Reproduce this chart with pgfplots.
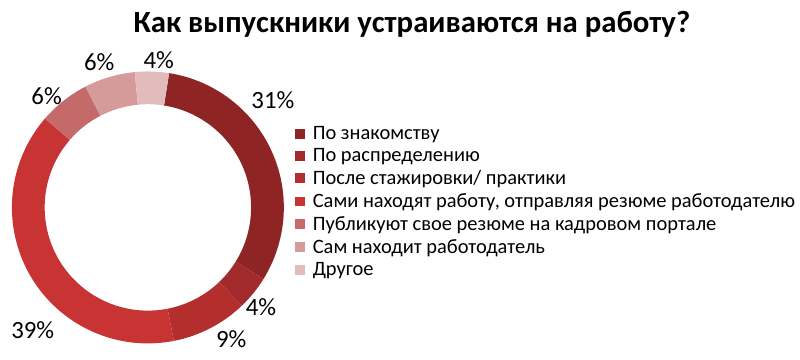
\documentclass[border=0pt]{standalone}
\usepackage{fontspec}
\setmainfont{Carlito}
\usepackage{pgfplots}
\usepackage{pgfplotstable}
\pgfplotsset{compat=1.18}
\definecolor{c0}{HTML}{8E2424}
\definecolor{c1}{HTML}{A12A2A}
\definecolor{c2}{HTML}{B52E2E}
\definecolor{c3}{HTML}{C83434}
\definecolor{c4}{HTML}{C46A6A}
\definecolor{c5}{HTML}{D69A9A}
\definecolor{c6}{HTML}{E2BCBC}
\pgfplotstableread{
value lx ly
31 275 261
4 263 53
9 233 20
39 33 29
6 47 265
6 100 299
4 160 301
}\ringdata
\def\total{0}%
\pgfplotsforeachungrouped \i in {0,...,6}{%
  \pgfplotstablegetelem{\i}{value}\of\ringdata
  \pgfmathsetmacro{\total}{\total+\pgfplotsretval}%
}%
\def\cum{0}%
\pgfplotsforeachungrouped \i in {0,...,6}{%
  \pgfplotstablegetelem{\i}{value}\of\ringdata
  \let\v\pgfplotsretval
  \pgfmathsetmacro{\a}{81-(\cum/\total)*360}%
  \pgfmathsetmacro{\cum}{\cum+\v}%
  \pgfmathsetmacro{\b}{81-(\cum/\total)*360}%
  \expandafter\xdef\csname sa\i\endcsname{\a}%
  \expandafter\xdef\csname ea\i\endcsname{\b}%
  \expandafter\xdef\csname val\i\endcsname{\v}%
  \pgfplotstablegetelem{\i}{lx}\of\ringdata
  \expandafter\xdef\csname lx\i\endcsname{\pgfplotsretval}%
  \pgfplotstablegetelem{\i}{ly}\of\ringdata
  \expandafter\xdef\csname ly\i\endcsname{\pgfplotsretval}%
}%
\begin{document}
\begin{tikzpicture}
\begin{axis}[
  hide axis, x=1pt, y=1pt, xmin=0, xmax=800, ymin=0, ymax=362,
  clip=false,
  legend style={at={(axis cs:294,239)}, anchor=north west, draw=none, fill=none,
    font=\fontsize{20.6}{23}\selectfont, row sep=3.6pt,
    nodes={inner sep=2pt},
    /tikz/every odd column/.append style={column sep=6pt}},
  legend cell align=left,
  legend image code/.code={\fill[#1] (0pt,-5pt) rectangle (10pt,5pt);},
]
\path (axis cs:0,0) rectangle (axis cs:800,362);
\pgfplotsinvokeforeach{0,...,6}{
  \fill[c#1] ([shift={(axis cs:149,153)}]{\csname sa#1\endcsname}:137pt)
     arc[start angle=\csname sa#1\endcsname, end angle=\csname ea#1\endcsname, radius=137pt]
     -- ([shift={(axis cs:149,153)}]{\csname ea#1\endcsname}:104pt)
     arc[start angle=\csname ea#1\endcsname, end angle=\csname sa#1\endcsname, radius=104pt]
     -- cycle;
  \node[font=\fontsize{25}{30}\selectfont] at (axis cs:\csname lx#1\endcsname,\csname ly#1\endcsname) {\csname val#1\endcsname\%};
}
\node[font=\fontsize{31}{34}\selectfont\bfseries] at (axis cs:415,338) {Как выпускники устраиваются на работу?};
\addlegendimage{draw=none,fill=c0}\addlegendentry{По знакомству}
\addlegendimage{draw=none,fill=c1}\addlegendentry{По распределению}
\addlegendimage{draw=none,fill=c2}\addlegendentry{После стажировки/ практики}
\addlegendimage{draw=none,fill=c3}\addlegendentry{Сами находят работу, отправляя резюме работодателю}
\addlegendimage{draw=none,fill=c4}\addlegendentry{Публикуют свое резюме на кадровом портале}
\addlegendimage{draw=none,fill=c5}\addlegendentry{Сам находит работодатель}
\addlegendimage{draw=none,fill=c6}\addlegendentry{Другое}
\end{axis}
\end{tikzpicture}
\end{document}
